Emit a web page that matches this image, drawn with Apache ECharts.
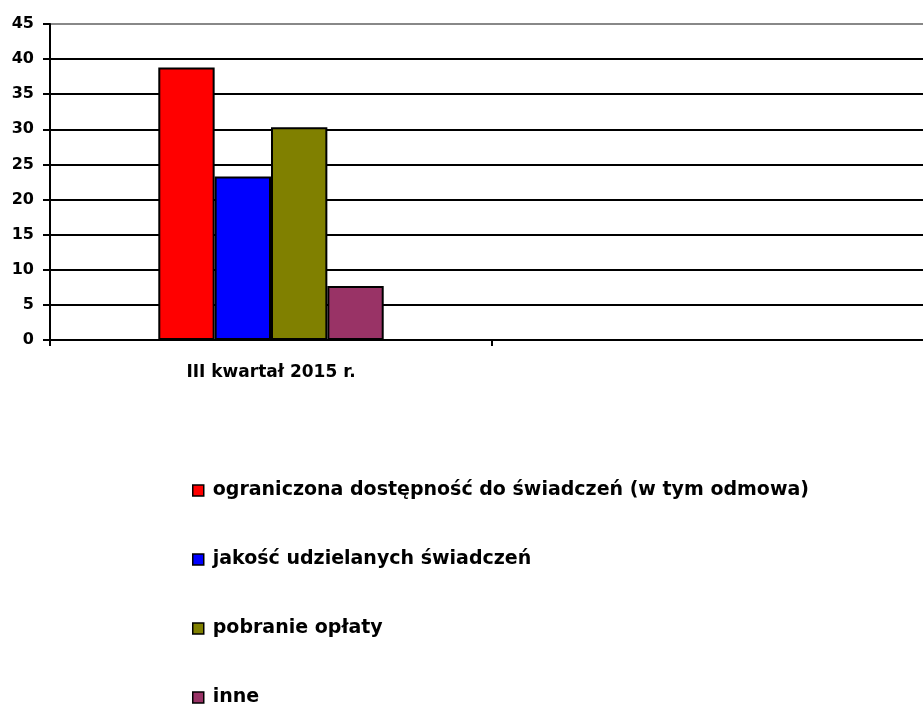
<!DOCTYPE html>
<html>
<head>
<meta charset="utf-8">
<script src="https://cdn.jsdelivr.net/npm/echarts@6/dist/echarts.min.js"></script>
<style>
  html, body { margin: 0; padding: 0; background: #fff; }
  #chart { width: 923px; height: 709px; }
</style>
</head>
<body>
<div id="chart"></div>
<script>
// Quarter categories (second slot intentionally empty)
const categories = ['III kwartał 2015 r.', ''];

// Series names and values per category
const seriesNames = [
  'ograniczona dostępność do świadczeń (w tym odmowa)',
  'jakość udzielanych świadczeń',
  'pobranie opłaty',
  'inne'
];
const valuesDostepnosc = [38.8, '-'];
const valuesJakosc = [23.3, '-'];
const valuesOplata = [30.3, '-'];
const valuesInne = [7.7, '-'];

const seriesColors = ['#ff0000', '#0000ff', '#808000', '#993366'];
const seriesValues = [valuesDostepnosc, valuesJakosc, valuesOplata, valuesInne];

const FONT = '"DejaVu Sans", "Liberation Sans", Arial, sans-serif';

const chart = echarts.init(document.getElementById('chart'));

chart.setOption({
  animation: false,
  backgroundColor: '#ffffff',
  grid: {
    left: 50, top: 24, width: 884, height: 316,
    containLabel: false, outerBoundsMode: 'none'
  },
  xAxis: {
    type: 'category',
    data: categories,
    axisLine: { lineStyle: { color: '#000', width: 2 } },
    axisTick: { show: true, length: 6, lineStyle: { color: '#000', width: 2 } },
    axisLabel: {
      color: '#000', fontFamily: FONT, fontWeight: 'bold', fontSize: 17,
      margin: 24
    },
    splitLine: { show: false }
  },
  yAxis: {
    type: 'value',
    min: 0, max: 45, interval: 5,
    axisLine: { show: true, lineStyle: { color: '#000', width: 2 } },
    axisTick: { show: true, length: 7, lineStyle: { color: '#000', width: 2 } },
    axisLabel: {
      color: '#000', fontFamily: FONT, fontWeight: 'bold', fontSize: 16,
      margin: 16
    },
    splitLine: {
      show: true,
      lineStyle: {
        color: ['#000', '#000', '#000', '#000', '#000', '#000', '#000', '#000', '#000', '#888'],
        width: 2
      }
    }
  },
  legend: {
    orient: 'vertical',
    left: 187,
    top: 476,
    height: 233,
    itemWidth: 11,
    itemHeight: 11,
    itemGap: 50,
    icon: 'rect',
    data: seriesNames,
    textStyle: {
      color: '#000', fontFamily: FONT, fontWeight: 'bold', fontSize: 19,
      padding: [0, 0, 0, 4]
    },
    itemStyle: { borderColor: '#000', borderWidth: 1.5 }
  },
  series: seriesNames.map((name, i) => ({
    name: name,
    type: 'bar',
    data: seriesValues[i],
    barGap: '0%',
    barCategoryGap: '49%',
    itemStyle: { color: seriesColors[i], borderColor: '#000', borderWidth: 2 }
  }))
});
</script>
</body>
</html>
